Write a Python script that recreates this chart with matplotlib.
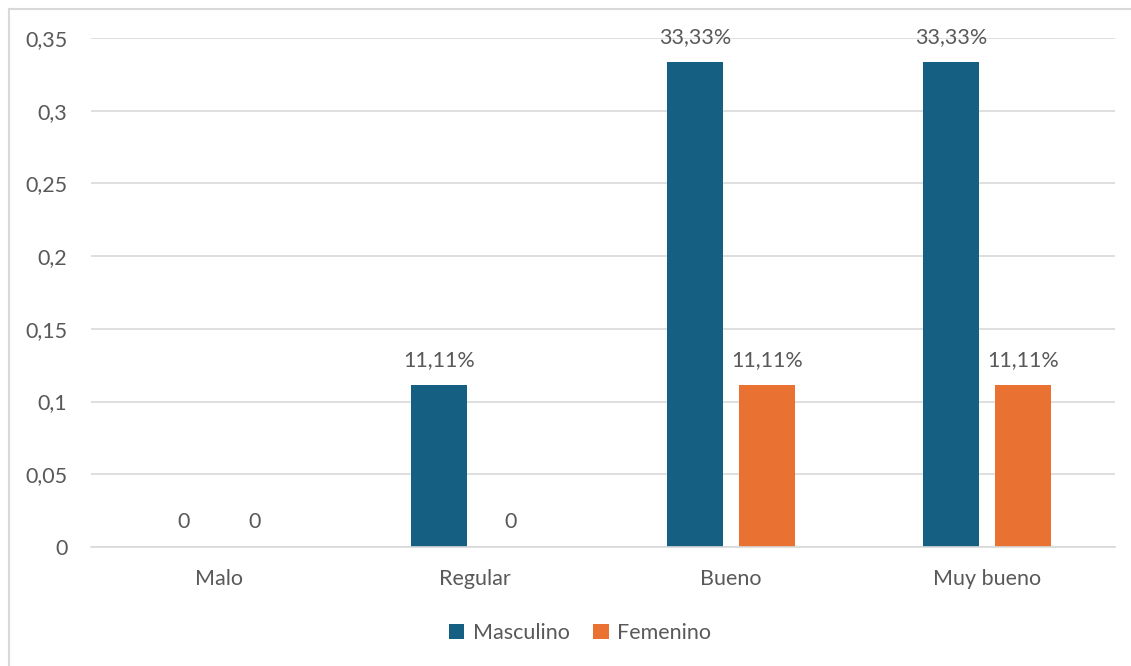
#! /usr/bin/env python3

import matplotlib
matplotlib.use("Agg")
import matplotlib.pyplot as plt
from matplotlib.lines import Line2D
import numpy as np

categories = ["Malo", "Regular", "Bueno", "Muy bueno"]
masculino = [0, 0.1111, 0.3333, 0.3333]
femenino = [0, 0, 0.1111, 0.1111]
ticks = [0, 0.05, 0.1, 0.15, 0.2, 0.25, 0.3, 0.35]
tick_labels = ["0", "0,05", "0,1", "0,15", "0,2", "0,25", "0,3", "0,35"]

text_color = "#595959"
plt.rcParams["font.family"] = ["Lato", "DejaVu Sans"]

fig = plt.figure(figsize=(11.31, 6.66), dpi=100)
ax = fig.add_axes([0.0805, 0.1787, 0.9055, 0.7643])

x = np.arange(len(categories))
width = 0.22
offset = 0.14
b1 = ax.bar(x - offset, masculino, width, color="#156082", label="Masculino", zorder=2)
b2 = ax.bar(x + offset, femenino, width, color="#E97132", label="Femenino", zorder=2)


def fmt(v):
    if v == 0:
        return "0"
    return f"{v * 100:.2f}%".replace(".", ",")


for bars, vals in [(b1, masculino), (b2, femenino)]:
    for rect, v in zip(bars, vals):
        ax.annotate(fmt(v), (rect.get_x() + rect.get_width() / 2, v),
                    xytext=(0, 11), textcoords="offset points",
                    ha="center", va="bottom", fontsize=15.5, color=text_color)

ax.set_xlim(-0.5, len(categories) - 0.5)
ax.set_ylim(0, 0.35)
ax.set_yticks(ticks)
ax.set_yticklabels(tick_labels)
ax.set_xticks(x)
ax.set_xticklabels(categories)
ax.tick_params(axis="both", length=0, labelsize=15.5, colors=text_color)
ax.tick_params(axis="x", pad=16)
ax.tick_params(axis="y", pad=17)
ax.yaxis.grid(True, color="#D9D9D9", linewidth=1.2)
ax.set_axisbelow(True)
for side in ["top", "right", "left"]:
    ax.spines[side].set_visible(False)
ax.spines["bottom"].set_color("#D9D9D9")
ax.spines["bottom"].set_linewidth(1.2)

fig.legend(loc="lower center", bbox_to_anchor=(0.513, 0.005), ncol=2, frameon=False,
           fontsize=15.5, labelcolor=text_color, handlelength=0.7, handleheight=0.7,
           handletextpad=0.4, columnspacing=1.1)

# chart frame: only top and left edges fall inside the image
fig.add_artist(Line2D([0.008, 1.0], [0.9865, 0.9865], transform=fig.transFigure,
                      color="#D9D9D9", linewidth=1.5))
fig.add_artist(Line2D([0.008, 0.008], [0.0, 0.9865], transform=fig.transFigure,
                      color="#D9D9D9", linewidth=1.5))

fig.savefig("out.png", dpi=100)
